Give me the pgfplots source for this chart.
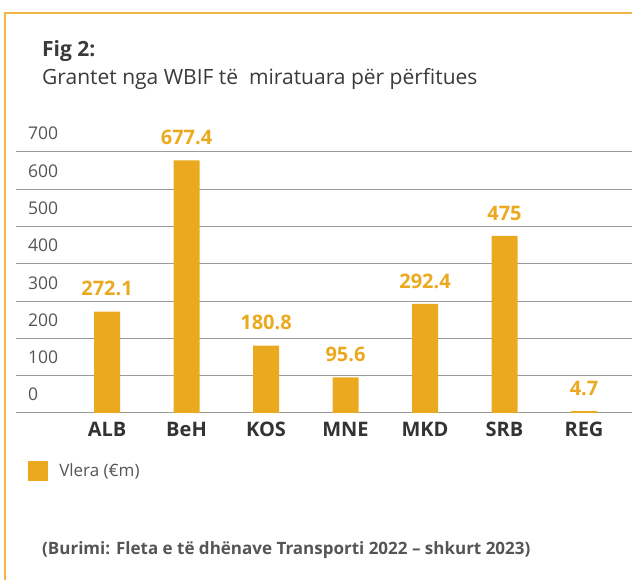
\documentclass[border=0pt]{standalone}
\usepackage{pgfplots}
\pgfplotsset{compat=1.18}
\usepackage{fontspec}
\setmainfont{Open Sans}
\definecolor{barc}{HTML}{EBA91F}
\definecolor{framec}{HTML}{F2B544}
\definecolor{tickc}{HTML}{555555}
\definecolor{catc}{HTML}{333333}
\definecolor{titc}{HTML}{3A3A3A}
\definecolor{gridc}{HTML}{9A9A9A}
\begin{document}
\begin{tikzpicture}[x=1pt,y=1pt]
\useasboundingbox (0,0) rectangle (632,580);
\draw[framec, line width=1.5pt] (5,0) -- (5,567) -- (640,567);
\node[anchor=base west, inner sep=0pt, font=\fontsize{21}{24}\selectfont\bfseries, text=titc] at (42,523) {Fig 2:};
\node[anchor=base west, inner sep=0pt, font=\fontsize{21}{24}\selectfont, text=titc] at (42,495) {Grantet nga WBIF të\ \ miratuara për përfitues};
\node[anchor=base west, inner sep=0pt, font=\fontsize{17}{20}\selectfont\bfseries, text=tickc] at (42,25) {(Burimi: Fleta e të dhënave Transporti 2022 – shkurt 2023)};
\begin{axis}[
  at={(16pt,167pt)}, anchor=south west,
  scale only axis, width=636pt, height=261pt,
  xmin=-1.145, xmax=6.855, ymin=0, ymax=700,
  ytick={0,100,...,700},
  xtick={0,1,2,3,4,5,6},
  xticklabels={ALB,BeH,KOS,MNE,MKD,SRB,REG},
  axis line style={draw=none},
  tick style={draw=none},
  ymajorgrids,
  grid style={gridc, line width=1pt},
  /pgf/number format/assume math mode=true,
  yticklabel style={anchor=base west, inner sep=0pt, xshift=12pt, yshift=12pt, font=\fontsize{17.5}{20}\selectfont, text=tickc},
  xticklabel style={font=\fontsize{20}{24}\selectfont\bfseries, text=catc, yshift=-1pt},
  clip=false,
  ybar, bar width=26pt,
  nodes near coords,
  nodes near coords style={font=\fontsize{20}{24}\selectfont\bfseries, text=barc, yshift=12pt},
  legend style={at={(0.019,-0.222)}, anchor=west, draw=none, fill=none, inner sep=0pt,
    font=\fontsize{17}{20}\selectfont, text=tickc,
    /tikz/every odd column/.append style={column sep=9pt}},
  legend image code/.code={\fill[barc] (0pt,-10pt) rectangle (20pt,10pt);},
]
\addplot[fill=barc, draw=none] coordinates {(0,272.1) (1,677.4) (2,180.8) (3,95.6) (4,292.4) (5,475) (6,4.7)};
\addlegendentry{Vlera (€m)}
\end{axis}
\end{tikzpicture}
\end{document}
